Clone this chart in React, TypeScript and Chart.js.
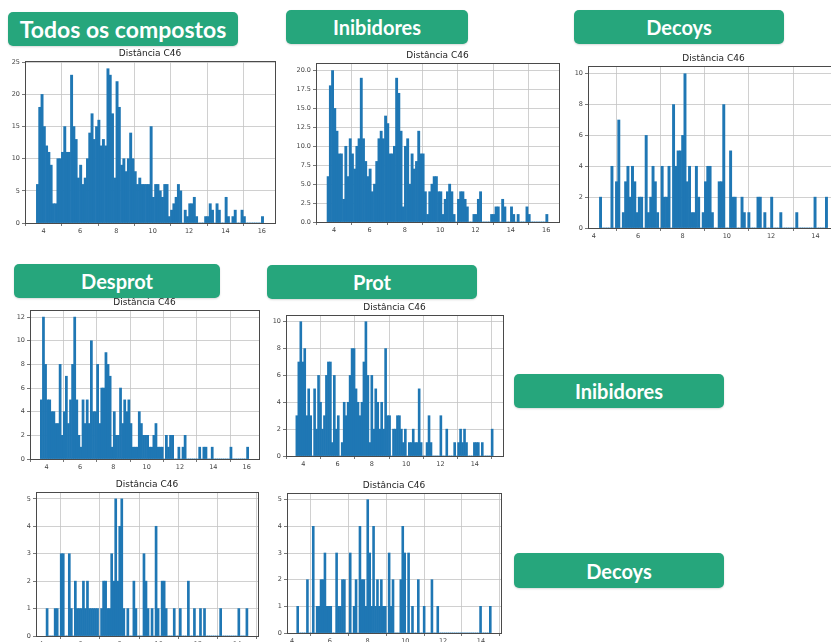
import React, { useEffect, useRef } from "react";
import { Chart, registerables } from "chart.js";

Chart.register(...registerables);

const TITLE = "Distância C46";

// ---- Data (histogram counts) ----
const todosStart = 3.6;
const todosBinWidth = 0.125;
const todosCounts = [
  6, 18, 20, 15, 12, 11, 9, 3, 3, 10,
  10, 11, 15, 11, 11, 23, 15, 13, 7, 9,
  6, 7, 10, 14, 17, 13, 15, 16, 12, 13,
  12, 24, 23, 17, 7, 22, 18, 9, 10, 8,
  10, 14, 10, 8, 6, 7, 6, 6, 6, 6,
  15, 4, 6, 6, 5, 4, 6, 6, 1, 2,
  3, 4, 6, 5, 0, 2, 1, 3, 3, 4,
  1, 0, 0, 0, 1, 1, 3, 2, 0, 3,
  2, 0, 0, 4, 1, 0, 1, 2, 0, 0,
  2, 1, 0, 0, 0, 0, 0, 0, 0, 1,
];

const inibStart = 3.6;
const inibBinWidth = 0.125;
const inibCounts = [
  6, 18, 20, 15, 12, 9, 9, 3, 10, 6,
  11, 9, 7, 10, 11, 19, 11, 8, 6, 7,
  4, 5, 8, 11, 12, 11, 14, 13, 9, 9,
  10, 19, 17, 12, 2, 10, 11, 5, 9, 7,
  8, 12, 9, 9, 4, 1, 4, 5, 6, 6,
  4, 4, 1, 3, 4, 5, 4, 1, 0, 3,
  4, 4, 3, 2, 0, 0, 1, 1, 3, 4,
  0, 0, 0, 0, 1, 1, 2, 2, 0, 3,
  2, 0, 0, 2, 1, 0, 1, 0, 0, 0,
  2, 1, 0, 0, 0, 0, 0, 0, 0, 1,
];

const decoyStart = 4.25;
const decoyBinWidth = 0.103;
const decoyCounts = [
  2, 0, 0, 0, 0, 4, 0, 3, 7, 0,
  1, 3, 4, 2, 4, 3, 1, 2, 2, 0,
  6, 1, 2, 4, 3, 1, 0, 4, 2, 2,
  4, 0, 8, 4, 5, 5, 6, 10, 3, 4,
  1, 1, 4, 2, 0, 1, 3, 4, 4, 1,
  0, 0, 3, 3, 8, 0, 0, 5, 2, 2,
  0, 0, 2, 1, 0, 1, 0, 0, 0, 2,
  2, 0, 1, 0, 0, 2, 0, 0, 0, 1,
  0, 0, 0, 0, 0, 0, 1, 0, 0, 0,
  0, 0, 0, 0, 2, 0, 0, 0, 0, 2,
];

const desprotInibStart = 3.62;
const desprotInibBinWidth = 0.125;
const desprotInibCounts = [
  5, 12, 8, 5, 5, 4, 4, 3, 3, 8,
  2, 4, 7, 3, 5, 8, 12, 5, 2, 1,
  5, 3, 5, 3, 10, 4, 4, 8, 3, 6,
  6, 9, 8, 7, 1, 4, 2, 2, 6, 3,
  5, 4, 5, 3, 1, 1, 1, 4, 3, 2,
  2, 2, 1, 1, 2, 3, 1, 1, 1, 0,
  2, 1, 2, 2, 0, 0, 1, 0, 1, 2,
  0, 0, 0, 0, 0, 0, 1, 0, 1, 1,
  0, 0, 1, 0, 0, 0, 0, 0, 0, 0,
  0, 1, 0, 0, 0, 0, 0, 0, 0, 1,
];

const protInibStart = 3.57;
const protInibBinWidth = 0.115;
const protInibCounts = [
  3, 7, 10, 7, 8, 3, 5, 3, 0, 5,
  2, 6, 4, 2, 3, 6, 7, 7, 1, 6,
  2, 3, 0, 1, 4, 3, 4, 6, 8, 8,
  5, 4, 3, 4, 7, 10, 6, 1, 6, 2,
  5, 4, 2, 4, 2, 8, 3, 3, 0, 2,
  2, 3, 3, 2, 1, 2, 0, 1, 1, 2,
  1, 1, 5, 1, 0, 0, 1, 3, 1, 0,
  0, 0, 0, 3, 0, 0, 2, 0, 0, 0,
  1, 0, 1, 2, 1, 2, 1, 0, 0, 0,
  1, 1, 1, 0, 1, 0, 0, 0, 0, 2,
];

const desprotDecoyStart = 4.25;
const desprotDecoyBinWidth = 0.103;
const desprotDecoyCounts = [
  1, 0, 0, 0, 1, 1, 0, 3, 3, 0,
  0, 3, 1, 0, 2, 1, 1, 1, 2, 1,
  2, 1, 1, 1, 1, 1, 0, 1, 2, 2,
  1, 1, 3, 2, 5, 2, 4, 5, 1, 0,
  1, 0, 0, 2, 1, 0, 0, 0, 3, 2,
  1, 0, 1, 0, 4, 1, 0, 2, 2, 1,
  0, 0, 0, 1, 0, 0, 1, 0, 0, 0,
  2, 0, 0, 1, 0, 0, 1, 0, 1, 0,
  0, 0, 0, 0, 0, 0, 1, 0, 0, 0,
  0, 0, 0, 0, 0, 1, 0, 0, 0, 1,
];

const protDecoyStart = 4.25;
const protDecoyBinWidth = 0.103;
const protDecoyCounts = [
  1, 0, 0, 0, 0, 2, 0, 0, 4, 0,
  1, 1, 2, 2, 3, 1, 1, 1, 0, 0,
  3, 1, 1, 2, 2, 0, 0, 3, 0, 1,
  2, 0, 4, 2, 2, 1, 5, 3, 1, 4,
  1, 2, 1, 2, 1, 1, 0, 3, 1, 2,
  0, 0, 0, 2, 4, 3, 0, 3, 0, 1,
  0, 0, 2, 0, 0, 1, 0, 0, 0, 2,
  0, 0, 1, 0, 0, 0, 0, 0, 0, 0,
  0, 0, 0, 0, 0, 0, 0, 0, 0, 0,
  0, 0, 0, 0, 1, 0, 0, 0, 0, 1,
];

// ---- Tick labels ----
const xTicks4to16 = [4, 6, 8, 10, 12, 14, 16];
const xTicks4to14 = [4, 6, 8, 10, 12, 14];
const yTicks0to25 = [0, 5, 10, 15, 20, 25];
const yTicks0to20 = [0, 2.5, 5, 7.5, 10, 12.5, 15, 17.5, 20];
const yTicks0to10 = [0, 2, 4, 6, 8, 10];
const yTicks0to12 = [0, 2, 4, 6, 8, 10, 12];
const yTicks0to5 = [0, 1, 2, 3, 4, 5];

// ---- Label boxes ----
const labelTexts = ["Todos os compostos", "Inibidores", "Decoys", "Desprot", "Prot", "Inibidores", "Decoys"];

const GREEN = "#26a67c";
const BAR = "#1f77b4";
const YW = 30;
const TH = 16;
const XH = 14;
const RP = 6;

const framePlugin = {
  id: "frameTitle",
  afterDraw(chart: any) {
    const { ctx, chartArea } = chart;
    const { left, right, top, bottom } = chartArea;
    ctx.save();
    ctx.strokeStyle = "#4a4a4a";
    ctx.lineWidth = 1;
    ctx.strokeRect(Math.round(left) + 0.5, Math.round(top) + 0.5, Math.round(right - left), Math.round(bottom - top));
    ctx.fillStyle = "#222";
    ctx.font = "9px 'DejaVu Sans'";
    ctx.textAlign = "center";
    ctx.textBaseline = "bottom";
    ctx.fillText(TITLE, (left + right) / 2, top - 3);
    ctx.restore();
  },
};

type HistProps = {
  left: number;
  top: number;
  w: number;
  h: number;
  start: number;
  binWidth: number;
  counts: number[];
  xMin: number;
  xMax: number;
  yMax: number;
  xTicks: number[];
  yTicks: number[];
  yDecimals?: number;
};

function Hist(p: HistProps) {
  const ref = useRef<HTMLCanvasElement>(null);
  useEffect(() => {
    if (!ref.current) return;
    const data = p.counts.map((c, i) => ({ x: p.start + (i + 0.5) * p.binWidth, y: c }));
    const tickFont = { family: "'DejaVu Sans'", size: 6.5 };
    const chart = new Chart(ref.current, {
      type: "bar",
      data: {
        datasets: [
          {
            data: data as any,
            backgroundColor: BAR,
            borderWidth: 0,
            barPercentage: 1,
            categoryPercentage: 1,
          },
        ],
      },
      options: {
        animation: false,
        responsive: false,
        events: [],
        layout: { padding: { top: TH, right: RP, bottom: 0, left: 0 } },
        plugins: { legend: { display: false }, tooltip: { enabled: false }, title: { display: false } },
        scales: {
          x: {
            type: "linear",
            min: p.xMin,
            max: p.xMax,
            offset: false,
            z: 1,
            afterBuildTicks: (ax: any) => {
              ax.ticks = p.xTicks.map((v) => ({ value: v }));
            },
            afterFit: (s: any) => {
              s.height = XH;
            },
            grid: { color: "#c4c4c4", lineWidth: 0.8, tickLength: 3, tickColor: "#555" },
            border: { display: true, color: "#4a4a4a" },
            ticks: {
              font: tickFont,
              color: "#444",
              padding: 1,
              maxRotation: 0,
              autoSkip: false,
              callback: (v: any) => String(v),
            },
          },
          y: {
            type: "linear",
            min: 0,
            max: p.yMax,
            z: 1,
            afterBuildTicks: (ax: any) => {
              ax.ticks = p.yTicks.map((v) => ({ value: v }));
            },
            afterFit: (s: any) => {
              s.width = YW;
            },
            grid: { color: "#c4c4c4", lineWidth: 0.8, tickLength: 3, tickColor: "#555" },
            border: { display: true, color: "#4a4a4a" },
            ticks: {
              font: tickFont,
              color: "#444",
              padding: 2,
              autoSkip: false,
              callback: (v: any) => (p.yDecimals ? Number(v).toFixed(p.yDecimals) : String(v)),
            },
          },
        },
      },
      plugins: [framePlugin],
    });
    return () => chart.destroy();
  }, []);
  const cw = p.w + YW + RP;
  const ch = p.h + TH + XH;
  return (
    <canvas
      ref={ref}
      width={cw}
      height={ch}
      style={{ position: "absolute", left: p.left - YW, top: p.top - TH, width: cw, height: ch }}
    />
  );
}

function Label({ text, left, top, w, h, size = 20 }: { text: string; left: number; top: number; w: number; h: number; size?: number }) {
  return (
    <div
      style={{
        position: "absolute",
        left,
        top,
        width: w,
        height: h,
        background: GREEN,
        borderRadius: 5,
        color: "#fff",
        fontFamily: "Lato, 'Open Sans', sans-serif",
        fontWeight: 700,
        fontSize: size,
        display: "flex",
        alignItems: "center",
        justifyContent: "center",
        boxShadow: "0 1px 2px rgba(0,0,0,0.15)",
      }}
    >
      {text}
    </div>
  );
}

export default function App() {
  return (
    <div
      style={{
        position: "fixed",
        left: 0,
        top: 0,
        width: 831,
        height: 642,
        overflow: "hidden",
        background: "#fff",
      }}
    >
      <Label text={labelTexts[0]} left={8} top={12} w={230} h={34} size={23} />
      <Label text={labelTexts[1]} left={286} top={10} w={182} h={34} />
      <Label text={labelTexts[2]} left={574} top={10} w={210} h={34} />
      <Label text={labelTexts[3]} left={14} top={264} w={206} h={34} />
      <Label text={labelTexts[4]} left={267} top={265} w={210} h={34} />
      <Label text={labelTexts[5]} left={514} top={374} w={210} h={34} />
      <Label text={labelTexts[6]} left={514} top={553} w={210} h={35} />

      <Hist left={25} top={61} w={250} h={162} start={todosStart} binWidth={todosBinWidth} counts={todosCounts}
        xMin={2.975} xMax={16.725} yMax={25.2} xTicks={xTicks4to16} yTicks={yTicks0to25} />
      <Hist left={316} top={63} w={243} h={159} start={inibStart} binWidth={inibBinWidth} counts={inibCounts}
        xMin={2.975} xMax={16.725} yMax={21} xTicks={xTicks4to16} yTicks={yTicks0to20} yDecimals={1} />
      <Hist left={588} top={66} w={251} h={162} start={decoyStart} binWidth={decoyBinWidth} counts={decoyCounts}
        xMin={3.735} xMax={15.065} yMax={10.5} xTicks={xTicks4to14} yTicks={yTicks0to10} />
      <Hist left={30} top={310} w={229} h={149} start={desprotInibStart} binWidth={desprotInibBinWidth} counts={desprotInibCounts}
        xMin={3.0} xMax={16.74} yMax={12.6} xTicks={xTicks4to16} yTicks={yTicks0to12} />
      <Hist left={286} top={315} w={217} h={141} start={protInibStart} binWidth={protInibBinWidth} counts={protInibCounts}
        xMin={2.995} xMax={15.645} yMax={10.5} xTicks={xTicks4to14} yTicks={yTicks0to10} />
      <Hist left={36} top={492} w={222} h={144} start={desprotDecoyStart} binWidth={desprotDecoyBinWidth} counts={desprotDecoyCounts}
        xMin={3.735} xMax={15.065} yMax={5.25} xTicks={xTicks4to14} yTicks={yTicks0to5} />
      <Hist left={287} top={493} w={214} h={140} start={protDecoyStart} binWidth={protDecoyBinWidth} counts={protDecoyCounts}
        xMin={3.735} xMax={15.065} yMax={5.25} xTicks={xTicks4to14} yTicks={yTicks0to5} />
    </div>
  );
}
